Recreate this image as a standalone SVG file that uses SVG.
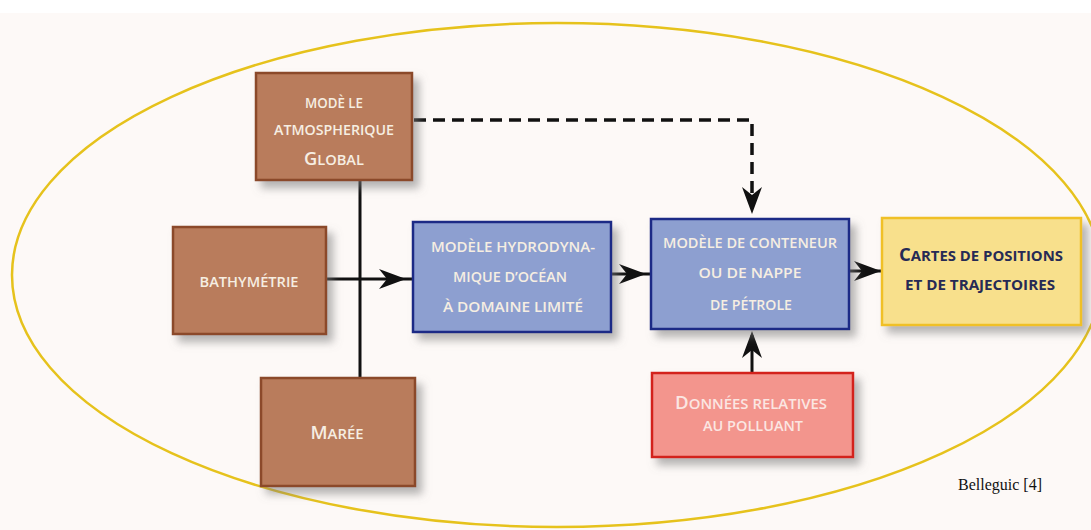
<svg xmlns="http://www.w3.org/2000/svg" width="1091" height="530" viewBox="0 0 1091 530">
<defs>
<filter id="sh" x="-10%" y="-10%" width="130%" height="140%">
<feDropShadow dx="6" dy="7" stdDeviation="4" flood-color="#7a7a7a" flood-opacity="0.55"/>
</filter>
<path id="ah" d="M0,0 L-27,-10 L-19,0 L-27,10 Z" fill="#111"/>
</defs>
<style>
.brown{fill:#b97b5b;stroke:#8b4a2b;stroke-width:2.5}
.blue{fill:#8d9fd0;stroke:#1c2a86;stroke-width:2.5}
.yel{fill:#f8e08c;stroke:#f0c028;stroke-width:2.5}
.red{fill:#f3958d;stroke:#d3221f;stroke-width:2.5}
.t{font-family:"Open Sans","Liberation Sans",Arial,sans-serif;font-size:14px;fill:#f6eee2;text-anchor:middle;font-weight:600}
.tp{font-family:"Open Sans","Liberation Sans",Arial,sans-serif;font-size:14px;fill:#fbe6e2;text-anchor:middle;font-weight:600}
.td{font-family:"Open Sans","Liberation Sans",Arial,sans-serif;font-size:14.5px;fill:#262a55;text-anchor:middle;font-weight:700}
.ln{stroke:#111;stroke-width:3;fill:none}
.dash{stroke:#111;stroke-width:3.5;fill:none;stroke-dasharray:12,7}
</style>
<rect x="0" y="0" width="1091" height="530" fill="#ffffff"/>
<rect x="0" y="13" width="1091" height="517" fill="#fdf9f7"/>
<ellipse cx="557" cy="275" rx="545" ry="252" fill="none" stroke="#e6c21c" stroke-width="2.5"/>

<g id="connectors">
<line class="ln" x1="360" y1="180" x2="360" y2="378"/>
<line class="ln" x1="326" y1="279" x2="413" y2="279"/>
<use href="#ah" transform="translate(406,279)"/>
<line class="ln" x1="611" y1="274" x2="651" y2="274"/>
<use href="#ah" transform="translate(646,274)"/>
<line class="ln" x1="849" y1="271" x2="882" y2="271"/>
<use href="#ah" transform="translate(881,271)"/>
<path class="dash" d="M414,120 H752 V200"/>
<use href="#ah" transform="translate(752,214) rotate(90)"/>
<line class="ln" x1="752" y1="373" x2="752" y2="335"/>
<use href="#ah" transform="translate(752,331) rotate(-90)"/>
</g>

<g id="n-atmo">
<rect class="brown" x="256" y="73" width="156" height="107" filter="url(#sh)"/>
<text class="t" x="334" y="108" textLength="58" lengthAdjust="spacingAndGlyphs">MODÈ LE</text>
<text class="t" x="334" y="135" textLength="120" lengthAdjust="spacingAndGlyphs">ATMOSPHERIQUE</text>
<text class="t" x="334" y="165" textLength="60" lengthAdjust="spacingAndGlyphs"><tspan font-size="17.5">G</tspan>LOBAL</text>
</g>

<g id="n-bathy">
<rect class="brown" x="173" y="227" width="153" height="107" filter="url(#sh)"/>
<text class="t" x="249" y="287" textLength="99" lengthAdjust="spacingAndGlyphs">BATHYMÉTRIE</text>
</g>

<g id="n-maree">
<rect class="brown" x="261" y="378" width="154" height="108" filter="url(#sh)"/>
<text class="t" x="337" y="439" textLength="53" lengthAdjust="spacingAndGlyphs"><tspan font-size="17.5">M</tspan>ARÉE</text>
</g>

<g id="n-hydro">
<rect class="blue" x="413" y="222" width="198" height="110" filter="url(#sh)"/>
<text class="t" x="513" y="252" textLength="164" lengthAdjust="spacingAndGlyphs">MODÈLE HYDRODYNA-</text>
<text class="t" x="510" y="282" textLength="114" lengthAdjust="spacingAndGlyphs">MIQUE D’OCÉAN</text>
<text class="t" x="513" y="312" textLength="140" lengthAdjust="spacingAndGlyphs">À DOMAINE LIMITÉ</text>
</g>

<g id="n-conteneur">
<rect class="blue" x="651" y="219" width="198" height="110" filter="url(#sh)"/>
<text class="t" x="750" y="248" textLength="174" lengthAdjust="spacingAndGlyphs">MODÈLE DE CONTENEUR</text>
<text class="t" x="750" y="278" textLength="103" lengthAdjust="spacingAndGlyphs">OU DE NAPPE</text>
<text class="t" x="751" y="310" textLength="82" lengthAdjust="spacingAndGlyphs">DE PÉTROLE</text>
</g>

<g id="n-cartes">
<rect class="yel" x="882" y="218" width="199" height="107" filter="url(#sh)"/>
<text class="td" x="981" y="261" textLength="164" lengthAdjust="spacingAndGlyphs"><tspan font-size="18">C</tspan>ARTES DE POSITIONS</text>
<text class="td" x="980" y="290" textLength="150" lengthAdjust="spacingAndGlyphs">ET DE TRAJECTOIRES</text>
</g>

<g id="n-donnees">
<rect class="red" x="652" y="373" width="201" height="84" filter="url(#sh)"/>
<text class="tp" x="751" y="409" textLength="152" lengthAdjust="spacingAndGlyphs"><tspan font-size="17.5">D</tspan>ONNÉES RELATIVES</text>
<text class="tp" x="753" y="431" textLength="100" lengthAdjust="spacingAndGlyphs">AU POLLUANT</text>
</g>

<text x="958" y="490" font-family="Liberation Serif,Times New Roman,serif" font-size="16" fill="#111">Belleguic [4]</text>
</svg>
